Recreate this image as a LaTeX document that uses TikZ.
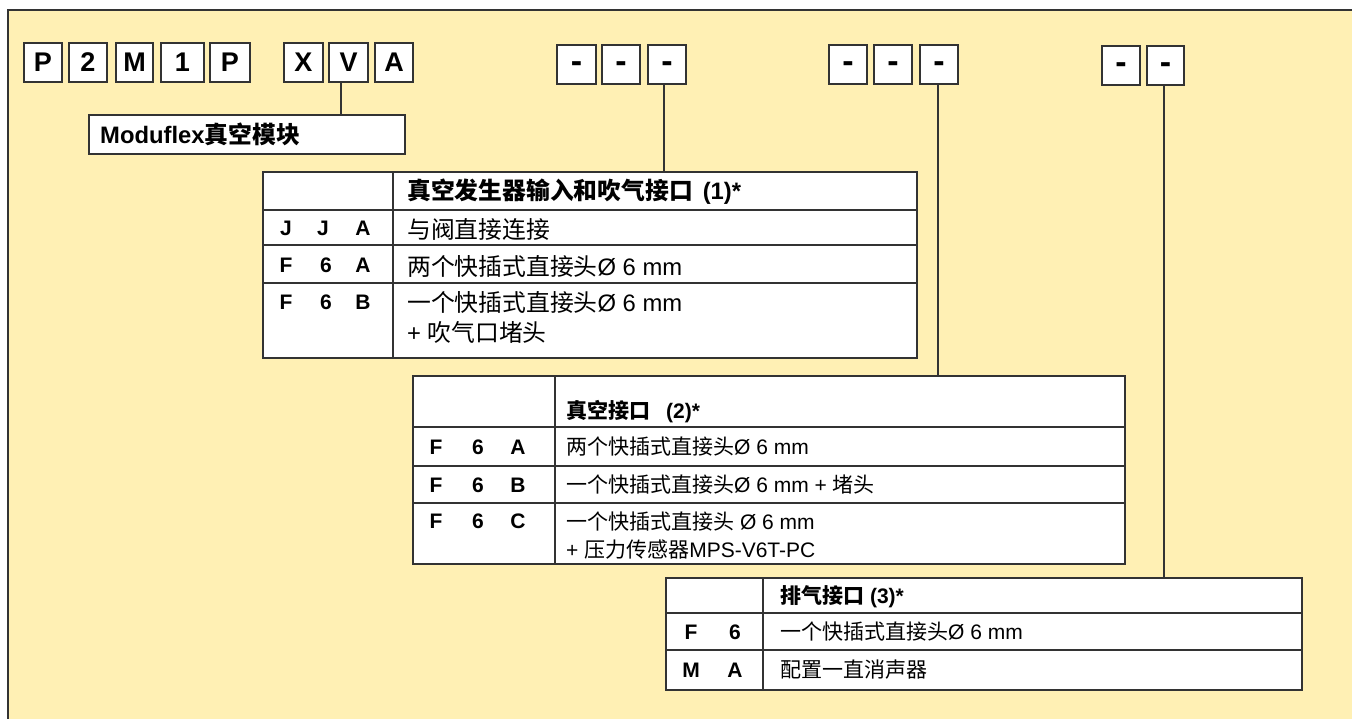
\documentclass[tikz,border=0pt]{standalone}
\usepackage{fontspec}
\setmainfont{Liberation Sans}
\newfontfamily\cjk{Noto Sans CJK SC}
\newcommand\zh[1]{{\cjk #1}}
\newcommand\dsh{\raisebox{-8.5pt}[0pt][0pt]{-}}
\definecolor{bgyellow}{HTML}{FFF0B4}
\definecolor{edge}{HTML}{333333}
\begin{document}
\begin{tikzpicture}[x=1pt,y=-1pt,
  codebox/.style={draw=edge, line width=1.2pt, fill=white, inner sep=0pt, minimum height=39pt, font=\fontsize{27}{27}\selectfont\bfseries},
  dashbox/.style={codebox, font=\fontsize{34}{34}\selectfont\bfseries},
  tbox/.style={draw=edge, line width=1.4pt, fill=white, inner sep=0pt},
  rule/.style={draw=edge, line width=1.4pt},
  cell/.style={anchor=west, inner sep=0pt, font=\fontsize{21}{25}\selectfont},
  hcell/.style={anchor=west, inner sep=0pt, font=\fontsize{21}{25}\selectfont\bfseries},
  bigcell/.style={anchor=west, inner sep=0pt, font=\fontsize{23.8}{28}\selectfont},
  bighcell/.style={anchor=west, inner sep=0pt, font=\fontsize{23.8}{28}\selectfont\bfseries},
  code/.style={inner sep=0pt, font=\fontsize{21}{25}\selectfont\bfseries},
  link/.style={draw=edge, line width=1.4pt}]
\useasboundingbox (0,0) rectangle (1352,719);
\draw[fill=bgyellow, draw=edge, line width=1.5pt] (8,10) rectangle (1365,735);

% top code boxes
\node[codebox, minimum width=38pt] (c1) at (43,62.5) {P};
\node[codebox, minimum width=38pt] (c2) at (88,62.5) {2};
\node[codebox, minimum width=37pt] (c3) at (134.5,62.5) {M};
\node[codebox, minimum width=43pt] (c4) at (182.5,62.5) {1};
\node[codebox, minimum width=40pt] (c5) at (230,62.5) {P};
\node[codebox, minimum width=39pt] (c6) at (303.5,62.5) {X};
\node[codebox, minimum width=39pt] (c7) at (348.5,62.5) {V};
\node[codebox, minimum width=38pt] (c8) at (394,62.5) {A};

% dash boxes
\node[dashbox, minimum width=39pt] (d1) at (576.5,64.5) {\dsh};
\node[dashbox, minimum width=38pt] (d2) at (621,64.5) {\dsh};
\node[dashbox, minimum width=38pt] (d3) at (667,64.5) {\dsh};
\node[dashbox, minimum width=38pt] (d4) at (848,64.5) {\dsh};
\node[dashbox, minimum width=38pt] (d5) at (893,64.5) {\dsh};
\node[dashbox, minimum width=38pt] (d6) at (939,64.5) {\dsh};
\node[dashbox, minimum width=38pt] (d7) at (1121,65.5) {\dsh};
\node[dashbox, minimum width=37pt] (d8) at (1165.5,65.5) {\dsh};

% Moduflex box
\node[tbox, minimum width=316pt, minimum height=39pt] (mod) at (247,134.5) {};
\node[bighcell] (modt) at (100,134.5) {Moduflex\zh{真空模块}};

% table 1
\node[tbox, minimum width=654pt, minimum height=186pt] (t1) at (590,265) {};
\draw[rule] (393,172) -- (393,358);
\draw[rule] (263,210) -- (917,210);
\draw[rule] (263,245) -- (917,245);
\draw[rule] (263,283) -- (917,283);
\node[bighcell] (t1h) at (407,192) {\zh{真空发生器输入和吹气接口}\hspace{10pt}(1)*};
\node[code] (t1a1) at (286,228) {J};
\node[code] (t1a2) at (323,228) {J};
\node[code] (t1a3) at (363,228) {A};
\node[bigcell] (t1at) at (407,229.5) {\zh{与阀直接连接}};
\node[code] (t1b1) at (286,265) {F};
\node[code] (t1b2) at (326,265) {6};
\node[code] (t1b3) at (363,265) {A};
\node[bigcell] (t1bt) at (407,266) {\zh{两个快插式直接头}Ø 6 mm};
\node[code] (t1c1) at (286,302) {F};
\node[code] (t1c2) at (326,302) {6};
\node[code] (t1c3) at (363,302) {B};
\node[bigcell] (t1ct) at (407,302) {\zh{一个快插式直接头}Ø 6 mm};
\node[bigcell] (t1ct2) at (407,332) {+ \zh{吹气口堵头}};

% table 2
\node[tbox, minimum width=712pt, minimum height=188pt] (t2) at (769,470) {};
\draw[rule] (555,376) -- (555,564);
\draw[rule] (413,427) -- (1125,427);
\draw[rule] (413,466) -- (1125,466);
\draw[rule] (413,503) -- (1125,503);
\node[hcell] (t2h) at (566,412) {\zh{真空接口}\hspace{16pt}(2)*};
\node[code] (t2a1) at (436,447) {F};
\node[code] (t2a2) at (478,447) {6};
\node[code] (t2a3) at (518,447) {A};
\node[cell] (t2at) at (566,447) {\zh{两个快插式直接头}Ø 6 mm};
\node[code] (t2b1) at (436,485) {F};
\node[code] (t2b2) at (478,485) {6};
\node[code] (t2b3) at (518,485) {B};
\node[cell] (t2bt) at (566,485) {\zh{一个快插式直接头}Ø 6 mm + \zh{堵头}};
\node[code] (t2c1) at (436,521) {F};
\node[code] (t2c2) at (478,521) {6};
\node[code] (t2c3) at (518,521) {C};
\node[cell] (t2ct) at (566,522) {\zh{一个快插式直接头} Ø 6 mm};
\node[cell] (t2ct2) at (566,550) {+ \zh{压力传感器}MPS-V6T-PC};

% table 3
\node[tbox, minimum width=636pt, minimum height=112pt] (t3) at (984,634) {};
\draw[rule] (763,578) -- (763,690);
\draw[rule] (666,613) -- (1302,613);
\draw[rule] (666,650) -- (1302,650);
\node[hcell] (t3h) at (780,597) {\zh{排气接口} (3)*};
\node[code] (t3a1) at (691,632) {F};
\node[code] (t3a2) at (735,632) {6};
\node[cell] (t3at) at (780,632) {\zh{一个快插式直接头}Ø 6 mm};
\node[code] (t3b1) at (691,670) {M};
\node[code] (t3b2) at (735,670) {A};
\node[cell] (t3bt) at (780,670) {\zh{配置一直消声器}};

% connectors
\draw[link] ([xshift=-7.5pt]c7.south) -- ([xshift=-7.5pt]c7.south |- mod.north);
\draw[link] ([xshift=-3pt]d3.south) -- ([xshift=-3pt]d3.south |- t1.north);
\draw[link] ([xshift=-1pt]d6.south) -- ([xshift=-1pt]d6.south |- t2.north);
\draw[link] ([xshift=-1.5pt]d8.south) -- ([xshift=-1.5pt]d8.south |- t3.north);
\end{tikzpicture}
\end{document}
